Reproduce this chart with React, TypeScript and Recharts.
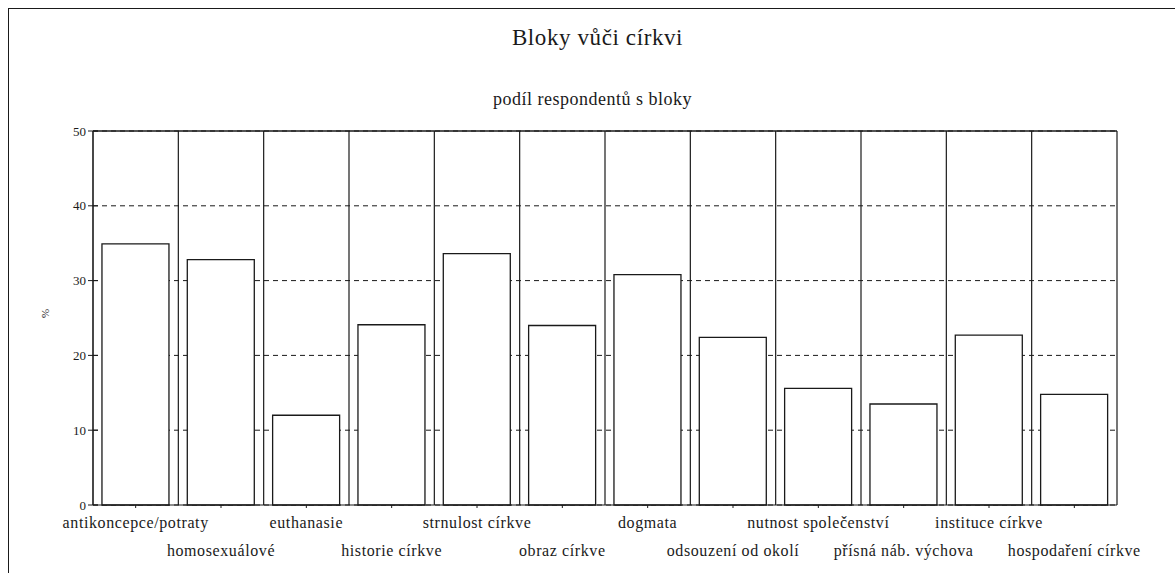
import { Bar, BarChart, CartesianGrid, ReferenceLine, XAxis, YAxis } from "recharts";

const categories = [
  "antikoncepce/potraty",
  "homosexuálové",
  "euthanasie",
  "historie církve",
  "strnulost církve",
  "obraz církve",
  "dogmata",
  "odsouzení od okolí",
  "nutnost společenství",
  "přísná náb. výchova",
  "instituce církve",
  "hospodaření církve",
];

const shares = [34.9, 32.8, 12.0, 24.1, 33.6, 24.0, 30.8, 22.4, 15.6, 13.5, 22.7, 14.8];

const yTicks = [0, 10, 20, 30, 40, 50];
const slotTicks = [0, 1, 2, 3, 4, 5, 6, 7, 8, 9, 10, 11, 12];

const data = categories.map((name, i) => ({ name, value: shares[i], slot: i + 0.5 }));

const serif = "Liberation Serif, serif";
const ink = "#1a1a1a";

const Y_TICK_SIZE = 5;
const Y_TICK_MARGIN = 2;

function YTick(props: any) {
  const { x, y, payload } = props;
  const axisX = x + Y_TICK_SIZE + Y_TICK_MARGIN;
  return (
    <g>
      <line x1={axisX} x2={axisX + 5} y1={y} y2={y} stroke={ink} strokeWidth={1} />
      <text
        x={x}
        y={y}
        textAnchor="end"
        dominantBaseline="central"
        fontFamily={serif}
        fontSize={13}
        fill={ink}
      >
        {payload.value}
      </text>
    </g>
  );
}

function XTick(props: any) {
  const { x, y, payload, index } = props;
  const dy = index % 2 === 0 ? 18 : 46;
  return (
    <text
      x={x}
      y={y + dy}
      textAnchor="middle"
      fontFamily={serif}
      fontSize={16}
      letterSpacing={0.6}
      fill={ink}
    >
      {payload.value}
    </text>
  );
}

export default function App() {
  return (
    <div
      style={{
        position: "absolute",
        left: 0,
        top: 0,
        width: 1175,
        height: 573,
        overflow: "hidden",
        background: "#fff",
        fontFamily: serif,
      }}
    >
      <div
        style={{
          position: "absolute",
          left: 8,
          top: 8,
          width: 1180,
          height: 600,
          borderLeft: `1.5px solid ${ink}`,
          borderTop: `1.5px solid ${ink}`,
        }}
      />
      <div
        style={{
          position: "absolute",
          left: 0,
          width: 1195,
          top: 25,
          textAlign: "center",
          fontSize: 23,
          letterSpacing: 0.6,
          color: ink,
        }}
      >
        Bloky vůči církvi
      </div>
      <div
        style={{
          position: "absolute",
          left: 0,
          width: 1185,
          top: 89,
          textAlign: "center",
          fontSize: 18,
          letterSpacing: 0.5,
          color: ink,
        }}
      >
        podíl respondentů s bloky
      </div>
      <div style={{ position: "absolute", left: 0, top: 0 }}>
        <BarChart
          width={1175}
          height={573}
          data={data}
          margin={{ top: 131, right: 58, left: 33, bottom: 0 }}
          barCategoryGap="10.5%"
        >
          <CartesianGrid vertical={false} stroke={ink} strokeDasharray="5 4" />
          <CartesianGrid xAxisId="slots" horizontal={false} stroke={ink} strokeWidth={1.2} />
          <XAxis
            dataKey="name"
            interval={0}
            height={68}
            tickSize={3}
            tickMargin={2}
            stroke={ink}
            tick={<XTick />}
          />
          <XAxis
            xAxisId="slots"
            dataKey="slot"
            type="number"
            domain={[0, 12]}
            ticks={slotTicks}
            allowDataOverflow
            hide
          />
          <YAxis
            width={60}
            domain={[0, 50]}
            ticks={yTicks}
            interval={0}
            tickSize={Y_TICK_SIZE}
            tickMargin={Y_TICK_MARGIN}
            stroke={ink}
            tick={<YTick />}
            label={{
              value: "%",
              angle: -90,
              position: "insideLeft",
              offset: 12,
              style: { fontFamily: serif, fontSize: 11, fill: ink },
            }}
          />
          <ReferenceLine y={50} stroke={ink} strokeWidth={1.5} />
          <Bar
            dataKey="value"
            fill="#fff"
            stroke={ink}
            strokeWidth={1.3}
            isAnimationActive={false}
          />
        </BarChart>
      </div>
    </div>
  );
}
